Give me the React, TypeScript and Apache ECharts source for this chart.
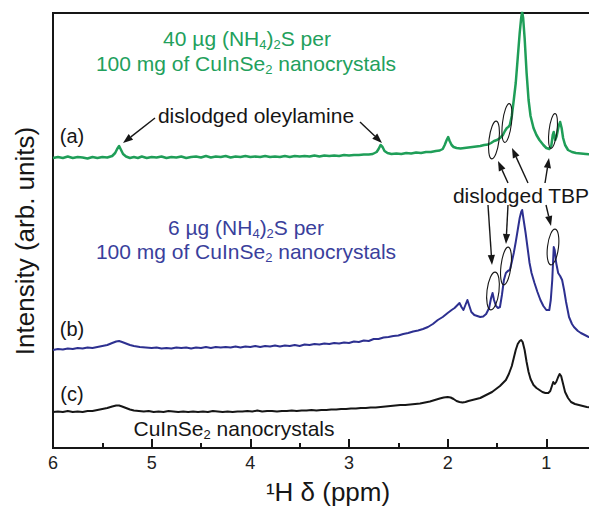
import React, { useEffect, useRef } from "react";
import * as echarts from "echarts";

// 1H NMR spectra, intensity relative to each trace's own baseline, [ppm, intensity]
const traceA: number[][] = [
  [6.0, 0], [5.95, 1], [5.9, 0], [5.85, 1.5], [5.8, 0], [5.75, 1], [5.7, 0.5], [5.65, -0.5], [5.6, 1], [5.55, 0],
  [5.5, 1], [5.45, 0.5], [5.4, 2], [5.37, 5], [5.35, 9], [5.33, 12], [5.31, 8], [5.29, 4], [5.26, 1.5], [5.22, 0],
  [5.18, 1], [5.14, 0], [5.1, 1.5], [5.05, 0], [5.0, 1], [4.95, 0.5], [4.9, 1.5], [4.85, 0], [4.8, 1], [4.75, 0.5],
  [4.7, 1.5], [4.65, 0], [4.6, 1], [4.55, 1.5], [4.5, 0.5], [4.45, 2], [4.4, 0.5], [4.35, 1.5], [4.3, 1], [4.25, 2],
  [4.2, 0.5], [4.15, 1.5], [4.1, 1], [4.05, 2], [4.0, 1], [3.95, 1.5], [3.9, 1], [3.85, 2], [3.8, 1], [3.75, 1.5],
  [3.7, 1], [3.65, 2], [3.6, 1], [3.55, 2], [3.5, 1.5], [3.45, 2], [3.4, 1.5], [3.35, 2.5], [3.3, 1.5], [3.25, 2.5],
  [3.2, 2], [3.15, 2.5], [3.1, 2], [3.05, 3], [3.0, 2.5], [2.95, 3], [2.9, 3], [2.85, 3.5], [2.8, 3.5], [2.76, 4],
  [2.72, 6], [2.7, 9], [2.68, 13], [2.66, 11], [2.64, 7], [2.61, 5], [2.57, 4], [2.52, 4.5], [2.47, 4], [2.42, 5],
  [2.37, 4.5], [2.32, 5.5], [2.27, 5], [2.22, 6], [2.17, 6], [2.12, 7], [2.08, 7.5], [2.05, 9], [2.03, 13], [2.01, 18],
  [1.995, 21], [1.98, 17], [1.96, 13], [1.94, 11], [1.91, 10], [1.87, 9.5], [1.83, 10], [1.79, 10.5], [1.75, 11],
  [1.71, 11.5], [1.67, 12], [1.63, 13], [1.59, 13.5], [1.56, 15], [1.53, 17], [1.5, 18], [1.47, 20], [1.44, 23],
  [1.42, 27], [1.4, 30], [1.385, 31], [1.37, 33], [1.35, 42], [1.33, 58], [1.31, 75], [1.29, 100], [1.27, 125],
  [1.255, 140], [1.245, 146], [1.235, 140], [1.22, 120], [1.2, 85], [1.18, 58], [1.16, 42], [1.13, 30], [1.1, 23],
  [1.07, 18], [1.03, 13], [1.0, 10], [0.97, 9], [0.95, 12], [0.935, 23], [0.925, 26], [0.91, 18], [0.895, 22],
  [0.875, 32], [0.86, 36], [0.845, 30], [0.83, 20], [0.81, 13], [0.78, 8], [0.74, 6], [0.7, 5], [0.65, 4.5],
  [0.6, 4], [0.55, 3.5], [0.5, 3.5],
];

const traceB: number[][] = [
  [6.0, 0], [5.95, 1], [5.9, 0.5], [5.85, 1.5], [5.8, 1], [5.75, 2], [5.7, 1.5], [5.65, 2.5], [5.6, 2], [5.55, 3],
  [5.5, 4], [5.45, 5], [5.4, 7], [5.36, 8.5], [5.33, 9], [5.3, 8], [5.26, 6.5], [5.22, 5], [5.18, 4], [5.12, 3],
  [5.06, 2.5], [5.0, 2], [4.95, 2.5], [4.9, 1.5], [4.85, 2], [4.8, 1.5], [4.75, 2.5], [4.7, 2], [4.65, 2.5], [4.6, 1.5],
  [4.55, 2.5], [4.5, 2], [4.45, 3], [4.4, 2], [4.35, 3], [4.3, 2.5], [4.25, 3], [4.2, 2.5], [4.15, 3.5], [4.1, 2.5],
  [4.05, 3.5], [4.0, 3], [3.95, 4], [3.9, 3], [3.85, 4], [3.8, 3.5], [3.75, 4.5], [3.7, 3.5], [3.65, 4.5], [3.6, 4],
  [3.55, 5], [3.5, 4], [3.45, 5.5], [3.4, 5], [3.35, 6], [3.3, 5.5], [3.25, 6.5], [3.2, 6], [3.15, 7], [3.1, 6.5],
  [3.05, 7.5], [3.0, 7], [2.95, 8.5], [2.9, 8], [2.85, 9.5], [2.8, 9], [2.75, 11], [2.7, 11], [2.65, 12.5], [2.6, 13],
  [2.55, 14], [2.5, 14.5], [2.45, 16], [2.4, 17], [2.35, 18.5], [2.3, 19.5], [2.25, 21], [2.2, 23], [2.15, 26],
  [2.1, 30], [2.05, 33], [2.0, 37], [1.96, 40], [1.93, 42], [1.9, 45], [1.88, 47], [1.86, 43], [1.84, 40], [1.82, 45],
  [1.8, 50], [1.78, 44], [1.76, 38], [1.73, 35], [1.7, 34], [1.67, 33], [1.64, 33.5], [1.61, 36], [1.58, 42],
  [1.56, 52], [1.545, 57], [1.53, 50], [1.51, 44], [1.49, 42], [1.47, 43], [1.45, 55], [1.43, 70], [1.41, 77],
  [1.39, 79], [1.37, 80], [1.35, 88], [1.33, 97], [1.31, 108], [1.29, 120], [1.27, 132], [1.255, 138], [1.245, 140],
  [1.23, 130], [1.21, 117], [1.19, 102], [1.17, 87], [1.15, 77], [1.12, 67], [1.09, 58], [1.06, 50], [1.03, 44],
  [1.0, 40], [0.97, 40], [0.955, 50], [0.94, 70], [0.925, 103], [0.915, 100], [0.9, 87], [0.88, 77], [0.86, 74],
  [0.84, 70], [0.82, 60], [0.8, 48], [0.77, 33], [0.74, 26], [0.72, 23], [0.68, 19], [0.65, 17], [0.61, 15],
  [0.57, 13], [0.53, 12], [0.5, 11],
];

const traceC: number[][] = [
  [6.0, 0], [5.95, 0.5], [5.9, 0], [5.85, 1], [5.8, 0], [5.75, 0.5], [5.7, 0], [5.65, 1], [5.6, 1], [5.55, 2],
  [5.5, 3], [5.45, 4], [5.4, 5.5], [5.36, 6.5], [5.33, 6.5], [5.3, 5.5], [5.26, 4], [5.22, 2.5], [5.18, 1.5],
  [5.13, 1], [5.08, 0.5], [5.03, 1], [4.98, 0], [4.93, 0.5], [4.88, 0], [4.83, 1], [4.78, 0.5], [4.73, 0], [4.68, 0.5],
  [4.63, 0], [4.58, 0.5], [4.53, 0], [4.48, 0.5], [4.43, 0], [4.38, 1], [4.33, 0.5], [4.28, 0], [4.23, 0.5], [4.18, 0],
  [4.13, 0.5], [4.08, 0.5], [4.03, 1], [3.98, 0.5], [3.93, 1.5], [3.88, 0.5], [3.83, 1], [3.78, 1], [3.73, 0.5],
  [3.68, 1], [3.63, 1], [3.58, 1.5], [3.53, 1], [3.48, 1.5], [3.43, 1.5], [3.38, 2], [3.33, 1.5], [3.28, 2], [3.23, 2],
  [3.18, 2.5], [3.13, 2.5], [3.08, 3], [3.03, 3], [2.98, 3.5], [2.93, 3.5], [2.88, 4], [2.83, 4], [2.78, 4.5],
  [2.73, 4.5], [2.68, 5], [2.63, 5.5], [2.58, 6], [2.53, 6.5], [2.48, 7], [2.43, 7], [2.38, 7.5], [2.33, 8],
  [2.28, 8.5], [2.23, 9.5], [2.18, 10.5], [2.13, 12], [2.08, 13.5], [2.04, 14.5], [2.0, 15], [1.97, 14.5], [1.94, 13],
  [1.91, 11], [1.88, 10], [1.85, 9.5], [1.82, 10], [1.79, 11], [1.75, 12], [1.71, 13], [1.67, 14], [1.63, 16],
  [1.59, 18], [1.55, 20], [1.51, 23], [1.47, 26], [1.44, 29], [1.41, 32], [1.38, 38], [1.35, 46], [1.33, 54],
  [1.31, 62], [1.29, 68], [1.27, 71], [1.255, 72], [1.24, 70], [1.22, 62], [1.2, 50], [1.18, 40], [1.16, 33],
  [1.13, 27], [1.1, 24], [1.07, 22], [1.04, 20], [1.01, 19], [0.98, 19], [0.96, 21], [0.94, 27], [0.93, 30],
  [0.915, 28], [0.9, 30], [0.88, 35], [0.865, 38], [0.85, 36], [0.83, 28], [0.81, 20], [0.78, 14], [0.75, 10],
  [0.71, 8], [0.67, 7], [0.63, 6], [0.59, 5], [0.55, 4.5], [0.5, 4],
];

// vertical stacking offsets of the three traces
const OFFSET_A = 290;
const OFFSET_B = 98;
const OFFSET_C = 36;

const FONT = "'Liberation Sans', Arial, Helvetica, sans-serif";
const GREEN = "#1f9e58";
const GREEN_TEXT = "#22a05c";
const BLUE = "#2d3090";
const BLUE_TEXT = "#3a3f9c";
const INK = "#161616";

// visible window and the wider drawing surface (the axis runs on to 0 ppm past the right edge)
const VIEW_W = 589;
const VIEW_H = 510;
const CHART_W = 645;

function arrow(x1: number, y1: number, x2: number, y2: number) {
  const ang = Math.atan2(y2 - y1, x2 - x1);
  const len = 10;
  const hw = 3.6;
  const bx = x2 - len * Math.cos(ang);
  const by = y2 - len * Math.sin(ang);
  const nx = -Math.sin(ang) * hw;
  const ny = Math.cos(ang) * hw;
  return [
    {
      type: "line",
      z: 100,
      shape: { x1, y1, x2: bx, y2: by },
      style: { stroke: INK, lineWidth: 1.4 },
    },
    {
      type: "polygon",
      z: 100,
      shape: { points: [[x2, y2], [bx + nx, by + ny], [bx - nx, by - ny]] },
      style: { fill: INK },
    },
  ];
}

function ellipse(cx: number, cy: number, rx: number, ry: number) {
  return {
    type: "ellipse",
    z: 100,
    x: cx,
    y: cy,
    rotation: -0.12,
    shape: { cx: 0, cy: 0, rx, ry },
    style: { fill: "none", stroke: INK, lineWidth: 1.1 },
  };
}

function label(text: string, x: number, y: number, fill: string, size = 21, extra: any = {}) {
  return {
    type: "text",
    z: 100,
    x,
    y,
    ...extra,
    style: {
      text,
      fill,
      fontSize: size,
      fontFamily: FONT,
      align: "center",
      verticalAlign: "middle",
      rich: {
        n: { fill, fontSize: size, fontFamily: FONT },
        s: { fill, fontSize: 13, fontFamily: FONT, padding: [13, 0, 0, 0] },
      },
    },
  };
}

export default function App() {
  const ref = useRef<HTMLDivElement>(null);

  useEffect(() => {
    const chart = echarts.init(ref.current!, null, { renderer: "svg", width: CHART_W, height: VIEW_H });

    const graphic: any[] = [
      label("{n|40 µg (NH}{s|4}{n|)}{s|2}{n|S per}", 247, 38, GREEN_TEXT),
      label("{n|100 mg of CuInSe}{s|2}{n| nanocrystals}", 246, 63, GREEN_TEXT),
      label("{n|6 µg (NH}{s|4}{n|)}{s|2}{n|S per}", 246, 227, BLUE_TEXT),
      label("{n|100 mg of CuInSe}{s|2}{n| nanocrystals}", 246, 251, BLUE_TEXT),
      label("{n|CuInSe}{s|2}{n| nanocrystals}", 234, 428, INK),
      label("dislodged oleylamine", 256, 115, INK),
      label("dislodged TBP", 521, 195, INK),
      label("(a)", 72, 136, INK, 20),
      label("(b)", 72, 329, INK, 20),
      label("(c)", 72, 394, INK, 20),
      label("Intensity (arb. units)", 25, 241, INK, 26, { rotation: Math.PI / 2 }),
      label("¹H δ (ppm)", 328, 492, INK, 26),
      ...arrow(155, 118, 123, 143),
      ...arrow(360, 122, 382, 143),
      ...arrow(508, 183, 498, 161),
      ...arrow(528, 183, 512, 148),
      ...arrow(545, 183, 549, 158),
      ...arrow(488, 205, 492, 265),
      ...arrow(508, 205, 506, 244),
      ...arrow(546, 205, 551, 226),
      ellipse(494, 140, 5, 19),
      ellipse(507, 123, 4.5, 19.5),
      ellipse(553, 131, 4, 17.5),
      ellipse(493, 291, 6, 19),
      ellipse(506, 266, 5, 19),
      ellipse(553, 247, 5.5, 18),
    ];

    const lineSeries = (data: number[][], offset: number, color: string, width: number) => ({
      type: "line",
      data: data.map(([x, v]) => [x, v + offset]),
      showSymbol: false,
      symbol: "none",
      clip: true,
      lineStyle: { color, width, join: "round" },
    });

    chart.setOption({
      animation: false,
      backgroundColor: "#ffffff",
      grid: {
        left: 53,
        top: 13,
        right: 0,
        bottom: 62,
        outerBoundsMode: "none",
        containLabel: false,
        show: true,
        borderColor: INK,
        borderWidth: 2,
        backgroundColor: "transparent",
      },
      xAxis: {
        type: "value",
        min: 0,
        max: 6,
        interval: 1,
        inverse: true,
        axisLine: { show: true, lineStyle: { color: INK, width: 2 } },
        axisTick: { show: true, inside: true, length: 9, lineStyle: { color: INK, width: 2 } },
        minorTick: { show: true, splitNumber: 2, length: 5, lineStyle: { color: INK, width: 2 } },
        axisLabel: {
          fontSize: 18,
          color: "#222",
          margin: 6,
          fontFamily: FONT,
          formatter: (v: number) => (v === 0 ? "" : String(v)),
        },
        splitLine: { show: false },
        minorSplitLine: { show: false },
      },
      yAxis: {
        type: "value",
        min: 0,
        max: 435,
        axisLine: { show: false },
        axisTick: { show: false },
        axisLabel: { show: false },
        splitLine: { show: false },
      },
      series: [
        lineSeries(traceA, OFFSET_A, GREEN, 2.5),
        lineSeries(traceB, OFFSET_B, BLUE, 2),
        lineSeries(traceC, OFFSET_C, INK, 2),
      ],
      graphic,
    });

    return () => chart.dispose();
  }, []);

  return (
    <div
      style={{
        position: "absolute",
        left: 0,
        top: 0,
        width: VIEW_W,
        height: VIEW_H,
        overflow: "hidden",
        background: "#fff",
      }}
    >
      <div ref={ref} style={{ width: CHART_W, height: VIEW_H }} />
    </div>
  );
}
